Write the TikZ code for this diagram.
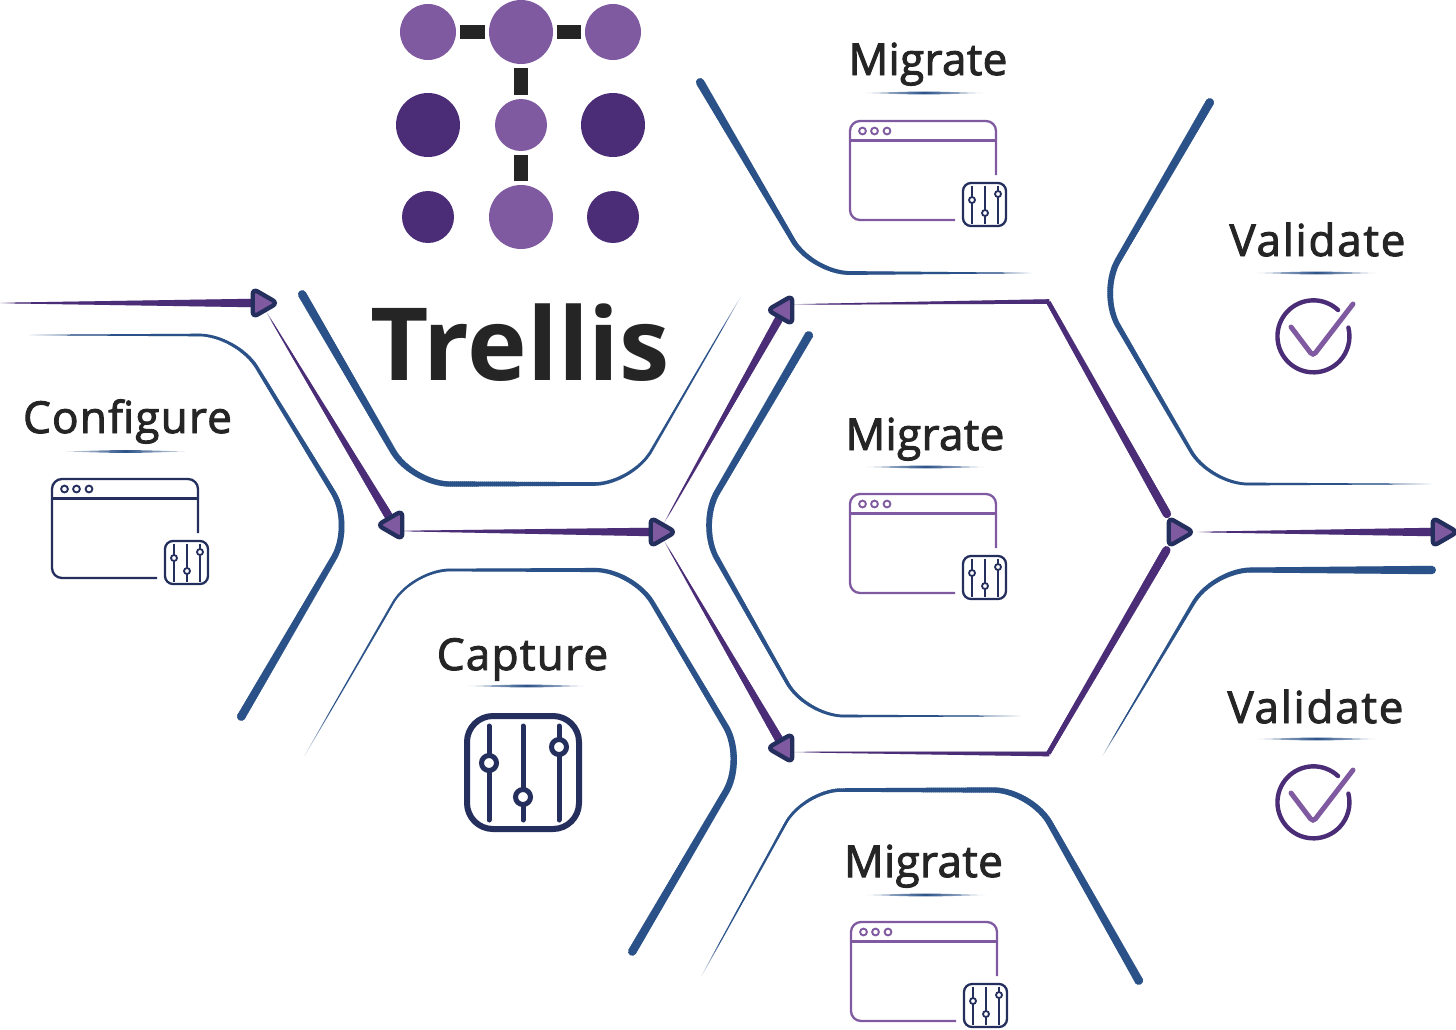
\documentclass[tikz,border=0pt]{standalone}
\usepackage{fontspec}
\setmainfont{Open Sans}
\usetikzlibrary{decorations.markings,shapes.geometric,backgrounds}
\definecolor{bluec}{HTML}{2B5288}
\definecolor{darkp}{HTML}{4B2D77}
\definecolor{lightp}{HTML}{7F5AA0}
\definecolor{navyc}{HTML}{242F5E}
\definecolor{inkc}{HTML}{252525}
\tikzset{
  taper/.style n args={3}{decoration={markings,
    mark=between positions 0 and 1 step 2pt with {%
      \pgfmathsetmacro\tf{\pgfkeysvalueof{/pgf/decoration/mark info/distance from start}/\pgfdecoratedpathlength}%
      \pgfmathsetmacro\tw{(#2+(#3-#2)*\tf)/2}%
      \pgfmathsetmacro\tx{\tw+0.02}%
      \pgfmathsetmacro\tm{min(100,10+\tf*1500)}%
      \fill[sharp corners,color=#1!\tm!white] (-1.3pt,-\tw pt) -- (1.3pt,-\tx pt) -- (1.3pt,\tx pt) -- (-1.3pt,\tw pt) -- cycle;},
    mark=at position 0.9995 with {\fill[#1] (0pt,0pt) circle (#3/2*1pt);}},decorate},
  btaper/.style={taper={bluec}{0.5}{8.4}},
  ptaper/.style={taper={darkp}{0.5}{8.4}},
  tri/.style={regular polygon,regular polygon sides=3,minimum size=33pt,inner sep=0pt,
    draw=navyc,fill=lightp,line width=4.4pt,rounded corners=5.5pt},
  triR/.style={tri,shape border rotate=-90},
  triL/.style={tri,shape border rotate=90},
  lab/.style={anchor=base,font=\fontsize{44}{44}\selectfont,text=inkc,inner sep=0pt},
  logoL/.style={circle,fill=lightp,inner sep=0pt,minimum size=#1},
  logoD/.style={circle,fill=darkp,inner sep=0pt,minimum size=#1},
  logolink/.style={inkc,line width=14pt,shorten >=#1,shorten <=#1},
}
\newcommand\under[3]{\shade[left color=bluec!20,right color=bluec!20,middle color=bluec,shading angle=90]
  (#1,#3) .. controls ({(#1+#2)/2},#3-1.9) .. (#2,#3) .. controls ({(#1+#2)/2},#3+1.9) .. (#1,#3) -- cycle;}
\newcommand\sliders[2]{\begin{scope}[shift={(#1,#2)},navyc,line width=2.3pt]
  \draw[rounded corners=8pt] (0,0) rectangle (43,43);
  \draw (9,2.5)--(9,40.5) (22,2.5)--(22,40.5) (35,2.5)--(35,40.5);
  \draw[fill=white,line width=1.8pt] (9,17) circle (3) (22,30) circle (3) (35,11) circle (3);
\end{scope}}
\newcommand\appwin[3]{\begin{scope}[shift={(#1,#2)},#3,line width=2.3pt]
  \draw[rounded corners=10pt] (105,99) -- (0,99) -- (0,0) -- (146,0) -- (146,54);
  \draw (0,19.5)--(146,19.5);
  \draw[line width=1.9pt] (12.5,10) circle (3.4) (24.5,10) circle (3.4) (37,10) circle (3.4);
\end{scope}\sliders{#1+113}{#2+62}}
\newcommand\checkmk[2]{\begin{scope}[shift={(#1,#2)}]
  \draw[darkp,line width=4.4pt,line cap=round] (23,-25) arc[start angle=-47,end angle=-374,radius=36];
  \draw[lightp,line width=5pt,line cap=round,rounded corners=4pt] (-24,-8) -- (-2,21) -- (38,-31);
\end{scope}}
\newcommand\lb[2]{\addfontfeatures{FakeBold=2.2,LetterSpace=#1}#2}
\begin{document}
\begin{tikzpicture}[x=1pt,y=-1pt]
\useasboundingbox (0,0) rectangle (1456,1029);
% logo
\node[logoL=56pt] (l11) at (428,32) {};
\node[logoL=64pt] (l12) at (521,32) {};
\node[logoL=56pt] (l13) at (613,32) {};
\node[logoD=64pt] (l21) at (428,125) {};
\node[logoL=52pt] (l22) at (521,125) {};
\node[logoD=64pt] (l23) at (613,125) {};
\node[logoD=52pt] (l31) at (428,217) {};
\node[logoL=64pt] (l32) at (521,217) {};
\node[logoD=52pt] (l33) at (613,217) {};
\draw[logolink=4pt] (l11) -- (l12);
\draw[logolink=3.5pt] (l12) -- (l13);
\draw[logolink=4pt] (l12) -- (l22);
\draw[logolink=3.5pt] (l22) -- (l32);
\node[anchor=base,inner sep=0pt,font=\fontsize{101}{101}\selectfont\bfseries,text=inkc] (title) at (520,380) {Trellis};
% labels
\node[lab] (cfg) at (127.5,433) {\lb{2.8}{Configure}};
\node[lab] (m1) at (928,75) {\lb{0.8}{Migrate}};
\node[lab] (v1) at (1317.5,256) {\lb{4}{Validate}};
\node[lab] (m2) at (925,450) {\lb{0.8}{Migrate}};
\node[lab] (cap) at (522.5,670) {\lb{3}{Capture}};
\node[lab] (v2) at (1315.5,723) {\lb{4}{Validate}};
\node[lab] (m3) at (923.5,877) {\lb{0.8}{Migrate}};
\under{66}{185}{451.5}
\under{865}{983}{93}
\under{1257}{1376}{273}
\under{866}{985}{467}
\under{468}{585}{686}
\under{1257}{1376}{739}
\under{866}{985}{895}
% icons
\appwin{52}{479}{navyc}
\appwin{850}{121}{lightp}
\appwin{850}{494}{lightp}
\appwin{851}{922}{lightp}
\checkmk{1315}{335}
\checkmk{1315}{801}
\begin{scope}[navyc]
  \draw[line width=6pt,rounded corners=26pt] (467,716) rectangle (579,829);
  \draw[line width=5pt,line cap=round] (489,726)--(489,820) (523,726)--(523,820) (559,726)--(559,820);
  \draw[line width=5pt,fill=white] (489,763) circle (7.5) (523,797) circle (7.5) (559,747) circle (7.5);
\end{scope}
% arrow triangles
\node[triR] (t1) at (261,303) {};
\node[triL] (t2) at (394,525) {};
\node[triR] (t3) at (659,532) {};
\node[triL] (t4) at (784,310) {};
\node[triL] (t5) at (784,748) {};
\node[triR] (t6) at (1177,532) {};
\node[triR] (t7) at (1441,532) {};
\coordinate (s0) at (0,303);
\coordinate (t2o) at (400,531);
\coordinate (t4o) at (790,304.5);
\coordinate (t5o) at (790,752);
\coordinate (c1) at (1048,301.5);
\coordinate (c2) at (1048,754);
% blue hexagon walls
\coordinate (a1) at (740,298); \coordinate (a2) at (632,484); \coordinate (a3) at (412,484); \coordinate (a4) at (302,294);
\coordinate (b1) at (30,335); \coordinate (b2) at (237,335); \coordinate (b3) at (353,525); \coordinate (b4) at (241,717);
\coordinate (d1) at (305,755); \coordinate (d2) at (412,570); \coordinate (d3) at (633,570); \coordinate (d4) at (745,759); \coordinate (d5) at (632,952);
\coordinate (e1) at (1030,273); \coordinate (e2) at (812,273); \coordinate (e3) at (700,82);
\coordinate (f1) at (1020,716); \coordinate (f2) at (806,716); \coordinate (f3) at (698,525); \coordinate (f4) at (809,335);
\coordinate (g1) at (702,975); \coordinate (g2) at (804,790); \coordinate (g3) at (1031,790); \coordinate (g4) at (1139,981);
\coordinate (h1) at (1430,484); \coordinate (h2) at (1210,484); \coordinate (h3) at (1099,293); \coordinate (h4) at (1210,102);
\coordinate (i1) at (1103,755); \coordinate (i2) at (1213,570); \coordinate (i3) at (1432,570);
\begin{pgfonlayer}{background}
\path[ptaper] (s0) -- (t1);
\path[ptaper] (t1) -- (t2);
\path[ptaper] (t2o) -- (t3);
\path[ptaper] (t3) -- (t4);
\path[ptaper] (t3) -- (t5);
\path[ptaper] (t4o) -- (c1) -- (t6);
\path[ptaper] (t5o) -- (c2) -- (t6);
\path[ptaper] (t6) -- (t7);
\path[btaper,rounded corners=38pt] (a1) -- (a2) -- (a3) -- (a4);
\path[btaper,rounded corners=38pt] (b1) -- (b2) -- (b3) -- (b4);
\path[btaper,rounded corners=38pt] (d1) -- (d2) -- (d3) -- (d4) -- (d5);
\path[btaper,rounded corners=38pt] (e1) -- (e2) -- (e3);
\path[btaper,rounded corners=38pt] (f1) -- (f2) -- (f3) -- (f4);
\path[btaper,rounded corners=38pt] (g1) -- (g2) -- (g3) -- (g4);
\path[btaper,rounded corners=38pt] (h1) -- (h2) -- (h3) -- (h4);
\path[btaper,rounded corners=38pt] (i1) -- (i2) -- (i3);
\end{pgfonlayer}
\end{tikzpicture}
\end{document}
